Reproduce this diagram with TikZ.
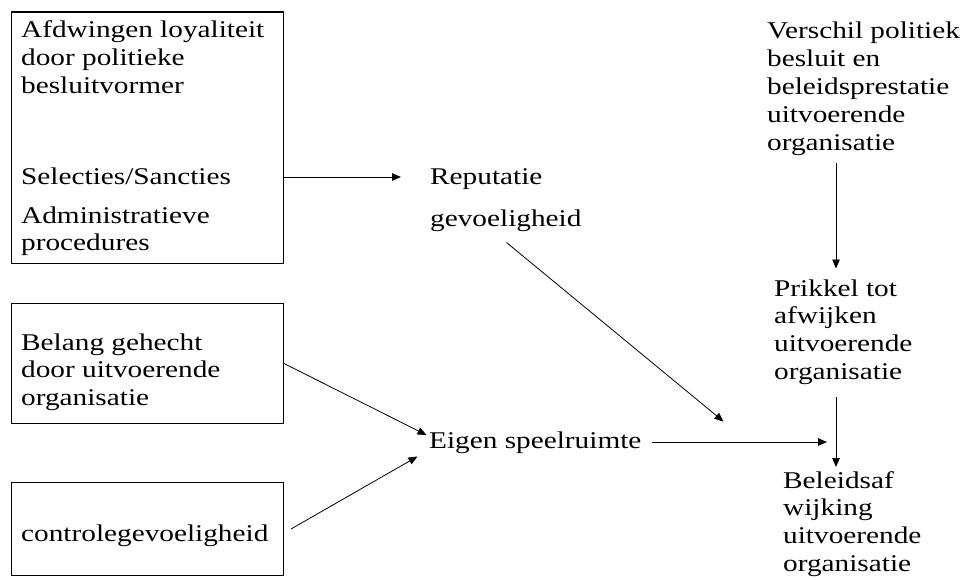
\documentclass[tikz,border=0pt]{standalone}
\usepackage{fontspec}
\setmainfont{Liberation Serif}[FakeStretch=1.22]
\usetikzlibrary{arrows.meta,calc}
\newcommand{\mlines}[1]{\begin{tabular}[t]{@{}l@{}}#1\end{tabular}}
\begin{document}
\begin{tikzpicture}[x=1pt,y=-1pt,
  txt/.style={anchor=base west, inner sep=0pt, font=\fontsize{24}{27.8}\selectfont},
  boxnode/.style={draw, line width=1pt, anchor=north west, inner sep=0pt},
  arr/.style={line width=0.8pt, -{Triangle[length=9pt,width=7.5pt]}}]
\useasboundingbox (0,0) rectangle (965,580);

% boxes
\node[boxnode, minimum width=272pt, minimum height=251pt] (b1) at (11,12) {};
\draw[line width=2pt] (b1.north west) -- (b1.north east);
\node[boxnode, minimum width=272pt, minimum height=120pt] (b2) at (11,303) {};
\node[boxnode, minimum width=272pt, minimum height=93pt] (b3) at (11,482) {};

% texts
\node[txt] (t1a) at (21,38) {\mlines{Afdwingen loyaliteit\\door politieke\\besluitvormer}};
\node[txt] (t1b) at (21,184) {Selecties/Sancties};
\node[txt] (t1c) at (21,223) {\mlines{Administratieve\\procedures}};
\node[txt] (t2) at (21,350) {\mlines{Belang gehecht\\door uitvoerende\\organisatie}};
\node[txt] (t3) at (21,541) {controlegevoeligheid};
\node[txt] (rep) at (430,184) {\mlines{Reputatie\\[15pt]gevoeligheid}};
\node[txt] (eig) at (429,448) {Eigen speelruimte};
\node[txt] (ver) at (767,39) {\mlines{Verschil politiek\\besluit en\\beleidsprestatie\\uitvoerende\\organisatie}};
\node[txt] (prik) at (774,296) {\mlines{Prikkel tot\\afwijken\\uitvoerende\\organisatie}};
\node[txt] (bel) at (783,488) {\mlines{Beleidsaf\\wijking\\uitvoerende\\organisatie}};

% connector end points
\coordinate (a1s) at (b1.east |- 0,177);
\coordinate (a1e) at (401,177);
\coordinate (a2s) at (506.5,242.5);
\coordinate (a2e) at (723.5,421.5);
\coordinate (a3e) at (426.5,435);
\coordinate (a4s) at ($(b3.east)+(7,0)$);
\coordinate (a4e) at (417.5,456.5);
\coordinate (a5s) at (652,442);
\coordinate (a5e) at (827,442);
\coordinate (a6s) at (836,163);
\coordinate (a6e) at (836,268.5);
\coordinate (a7s) at (836,397);
\coordinate (a7e) at (836,467);

% connectors
\draw[arr] (a1s) -- (a1e);
\draw[arr] (a2s) -- (a2e);
\draw[arr] (b2.east) -- (a3e);
\draw[arr] (a4s) -- (a4e);
\draw[arr] (a5s) -- (a5e);
\draw[arr] (a6s) -- (a6e);
\draw[arr] (a7s) -- (a7e);
\end{tikzpicture}
\end{document}
